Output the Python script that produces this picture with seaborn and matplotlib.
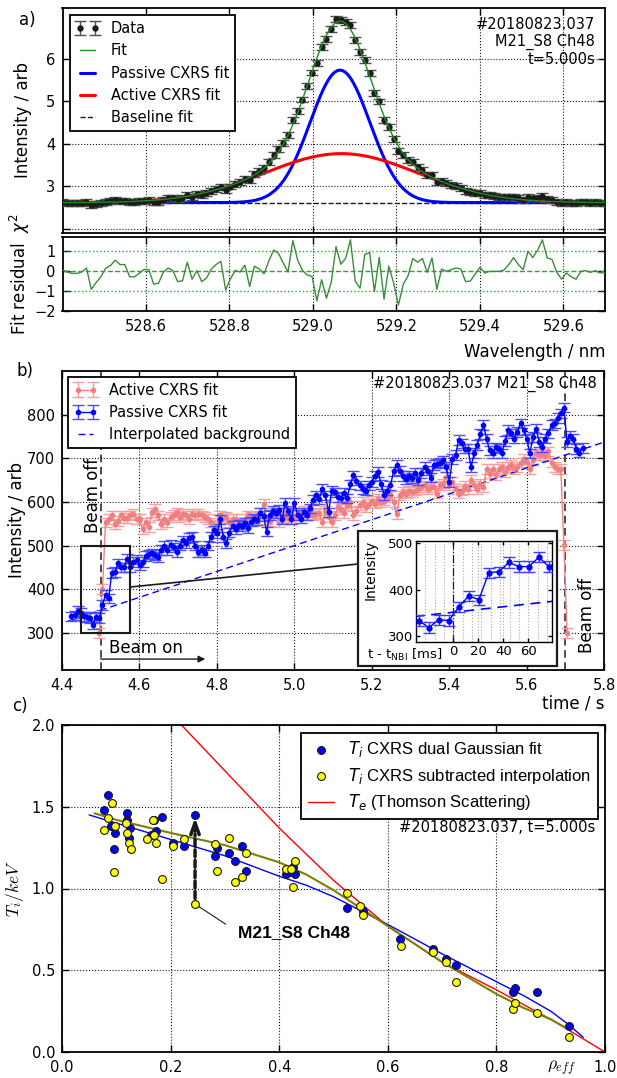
import numpy as np
import matplotlib
matplotlib.use("Agg")
import matplotlib.pyplot as plt
from matplotlib.patches import Rectangle, ConnectionPatch
from matplotlib.ticker import MultipleLocator, FormatStrFormatter
import seaborn as sns

# ---------------- a) CXRS spectrum, M21_S8 Ch48 at t = 5.000 s ----------------
wl_start = 528.40      # nm, first detector pixel
wl_step = 0.0115       # nm per pixel
fit_residual = [
    0.05, -0.05, -0.12, -0.12, -0.05, 0.15, -0.92, -0.58, -0.29, 0.14,
    0.27, 0.54, 0.32, 0.32, -0.29, -0.29, -0.12, 0.08, 0.07, -0.66,
    -0.61, -0.07, 0.15, 0.02, -0.53, -0.49, 0.44, -0.41, 0.02, -0.53,
    -0.36, 0.10, 0.32, 0.49, -0.95, -0.39, 0.03, -0.05, 0.29, -0.78,
    0.24, 0.10, -0.14, 0.50, 1.05, 0.88, 0.40, -0.05, 1.53, 0.54,
    0.03, -0.20, -0.27, -1.49, -0.44, -1.36, -0.56, 1.22, 0.34, 0.63,
    1.56, -0.51, -0.86, 0.83, 0.92, -1.03, 0.68, -1.41, 0.24, -0.60,
    -1.70, -0.67, -0.24, 0.62, 0.44, 0.62, -0.07, 0.65, -0.92, 0.10,
    -0.02, 0.07, 0.15, 0.10, -0.53, -0.50, -0.15, 0.19, -0.10, -0.02,
    -0.02, -0.02, 0.05, 0.32, 0.67, 0.32, 0.07, 0.99, 0.67, 1.04,
    1.56, 0.65, 0.58, -0.07, -0.41, -0.10, -0.29, -0.41, -0.02, 0.02,
    -0.07, 0.02, -0.10, -0.07,
]
data_err = 0.07
baseline = 2.62
passive_amp, passive_center, passive_sigma = 3.11, 529.065, 0.0715
active_amp, active_center, active_sigma = 1.15, 529.068, 0.183

# ---------------- b) line intensities versus time ----------------
t_nbi = 4.50
t_beam_off = 5.70
frame_start = 4.4245
frame_step = 0.008
passive_intensity = [
    338, 340, 350, 345, 338, 336, 334, 319, 336, 334,
    364, 387, 379, 437, 439, 459, 450, 450, 470, 450,
    462, 468, 455, 462, 476, 480, 482, 478, 474, 490,
    500, 490, 502, 496, 486, 500, 512, 505, 518, 520,
    500, 486, 490, 484, 500, 520, 535, 528, 560, 520,
    505, 530, 545, 538, 548, 545, 552, 540, 555, 562,
    558, 575, 568, 532, 570, 580, 575, 582, 560, 598,
    580, 560, 598, 570, 562, 576, 570, 585, 605, 615,
    607, 630, 615, 576, 626, 622, 612, 610, 620, 608,
    640, 661, 649, 638, 630, 626, 638, 646, 660, 669,
    640, 615, 626, 638, 670, 684, 672, 660, 653, 660,
    655, 666, 650, 666, 680, 672, 656, 684, 688, 690,
    695, 680, 646, 699, 707, 742, 734, 722, 722, 680,
    712, 730, 755, 776, 745, 718, 711, 725, 722, 711,
    740, 765, 757, 745, 760, 780, 765, 745, 711, 749,
    768, 738, 726, 745, 757, 776, 780, 792, 803, 816,
    738, 752, 745, 721, 713, 724,
]
passive_err = 11
active_offset = 9
active_intensity = [
    300, 400, 553, 561, 569, 550, 557, 569, 563, 563,
    569, 573, 561, 561, 538, 553, 542, 576, 584, 569,
    550, 561, 553, 565, 570, 576, 565, 573, 569, 561,
    573, 569, 573, 569, 565, 561, 553, 542, 546, 569,
    563, 565, 553, 561, 561, 550, 553, 561, 569, 565,
    557, 569, 575, 596, 560, 557, 569, 576, 553, 565,
    569, 563, 573, 563, 569, 576, 580, 573, 576, 569,
    573, 575, 553, 580, 565, 553, 569, 588, 584, 575,
    592, 600, 569, 580, 592, 600, 588, 596, 603, 596,
    607, 600, 603, 611, 615, 600, 573, 615, 623, 619,
    626, 623, 626, 630, 634, 638, 630, 634, 634, 619,
    638, 642, 657, 638, 646, 630, 619, 626, 636, 630,
    650, 638, 630, 642, 634, 676, 665, 676, 661, 676,
    680, 668, 680, 684, 676, 680, 690, 699, 692, 676,
    696, 711, 707, 711, 705, 716, 690, 680, 676, 676,
    502, 300,
]
active_err = 11
background_time = [4.416, 5.80]
background_level = [327, 737]

# ---------------- c) ion temperature profile ----------------
rho_dg = [0.084, 0.078, 0.090, 0.098, 0.095, 0.119, 0.120, 0.126, 0.123, 0.163,
          0.170, 0.173, 0.184, 0.205, 0.225, 0.245, 0.282, 0.286, 0.308, 0.318,
          0.331, 0.338, 0.412, 0.420, 0.426, 0.429, 0.524, 0.555, 0.622, 0.684,
          0.708, 0.725, 0.830, 0.835, 0.875, 0.934]
ti_dg = [1.57, 1.48, 1.38, 1.34, 1.24, 1.46, 1.42, 1.37, 1.31, 1.33,
         1.42, 1.35, 1.44, 1.28, 1.26, 1.45, 1.20, 1.25, 1.22, 1.17,
         1.26, 1.11, 1.09, 1.10, 1.13, 1.09, 0.88, 0.86, 0.69, 0.63,
         0.57, 0.53, 0.37, 0.39, 0.37, 0.16]
rho_si = [0.092, 0.084, 0.078, 0.098, 0.095, 0.118, 0.119, 0.124, 0.127, 0.157,
          0.168, 0.170, 0.173, 0.184, 0.205, 0.225, 0.245, 0.282, 0.286, 0.308,
          0.318, 0.331, 0.338, 0.413, 0.422, 0.429, 0.426, 0.524, 0.548, 0.555,
          0.624, 0.684, 0.708, 0.725, 0.830, 0.835, 0.875, 0.934]
ti_si = [1.52, 1.43, 1.36, 1.38, 1.10, 1.40, 1.34, 1.28, 1.24, 1.30,
         1.42, 1.33, 1.28, 1.06, 1.26, 1.30, 0.905, 1.27, 1.11, 1.31,
         1.04, 1.07, 1.22, 1.12, 1.12, 1.17, 1.01, 0.97, 0.895, 0.84,
         0.65, 0.61, 0.55, 0.43, 0.26, 0.30, 0.24, 0.09]
rho_fit_dg = [0.05, 0.10, 0.20, 0.30, 0.40, 0.45, 0.50, 0.60, 0.70, 0.80, 0.85, 0.90,
              0.93, 0.96]
ti_fit_dg = [1.45, 1.40, 1.30, 1.20, 1.075, 1.02, 0.95, 0.78, 0.60, 0.43, 0.345, 0.25,
             0.175, 0.09]
rho_fit_si = [0.06, 0.10, 0.20, 0.30, 0.40, 0.45, 0.50, 0.60, 0.70, 0.80, 0.85, 0.90,
              0.935]
ti_fit_si = [1.46, 1.42, 1.34, 1.265, 1.16, 1.085, 0.99, 0.77, 0.55, 0.355, 0.27, 0.20,
             0.135]
rho_te = [0.20, 0.30, 0.40, 0.50, 0.60, 0.70, 0.80, 0.90, 1.00]
te_ts = [2.07, 1.72, 1.37, 1.05, 0.77, 0.55, 0.38, 0.20, 0.00]
channel_dg, channel_si = 15, 16   # M21_S8 Ch48 in the two profiles

# ---------------- style ----------------
sns.set_theme(style="white")
plt.rcParams.update({
    "font.family": ["DejaVu Sans"],
    "axes.edgecolor": "black",
    "axes.linewidth": 1.3,
    "axes.labelcolor": "black",
    "axes.labelsize": 12,
    "text.color": "black",
    "xtick.color": "black",
    "ytick.color": "black",
    "xtick.direction": "in",
    "ytick.direction": "in",
    "xtick.bottom": True,
    "ytick.left": True,
    "xtick.top": True,
    "ytick.right": True,
    "xtick.major.size": 5,
    "ytick.major.size": 5,
    "xtick.major.width": 1,
    "ytick.major.width": 1,
    "xtick.major.pad": 6,
    "ytick.major.pad": 5,
    "xtick.labelsize": 10.5,
    "ytick.labelsize": 10.5,
    "legend.fontsize": 10.5,
    "legend.frameon": True,
    "legend.fancybox": False,
    "legend.edgecolor": "black",
    "legend.framealpha": 1,
    "patch.linewidth": 1.3,
})
GRID = dict(ls=":", color="k", lw=0.8)

fig = plt.figure(figsize=(6.17, 10.78), dpi=100)
W, H = 617.0, 1078.0


def box(left, top, right, bottom):
    return [left / W, 1 - bottom / H, (right - left) / W, (bottom - top) / H]


ax_a = fig.add_axes(box(62.5, 8, 605, 233))
ax_r = fig.add_axes(box(62.5, 237, 605, 311), sharex=ax_a)
ax_b = fig.add_axes(box(62, 371, 604, 670))
ax_c = fig.add_axes(box(62, 725, 605, 1052))
ax_in = fig.add_axes(box(416, 541, 552, 642))


def gaussian(x, amp, cen, sig):
    return amp * np.exp(-0.5 * ((x - cen) / sig) ** 2)


# ---------------- panel a ----------------
wavelength = wl_start + wl_step * np.arange(len(fit_residual))
model_at_pixels = (baseline + gaussian(wavelength, passive_amp, passive_center, passive_sigma)
                   + gaussian(wavelength, active_amp, active_center, active_sigma))
spectrum = model_at_pixels + np.asarray(fit_residual) * data_err

wl_fine = np.linspace(wavelength[0], wavelength[-1], 800)
passive_curve = baseline + gaussian(wl_fine, passive_amp, passive_center, passive_sigma)
active_curve = baseline + gaussian(wl_fine, active_amp, active_center, active_sigma)
fit_curve = passive_curve + active_curve - baseline

ax_a.errorbar(wavelength, spectrum, yerr=data_err, fmt="o", ms=3.6, color="k",
              ecolor="0.3", elinewidth=1, capsize=4, capthick=1, label="Data", zorder=3)
sns.lineplot(x=wl_fine, y=fit_curve, color="#1e8c1e", lw=1, label="Fit", ax=ax_a, zorder=4)
sns.lineplot(x=wl_fine, y=passive_curve, color="#0000ff", lw=2.2,
             label="Passive CXRS fit", ax=ax_a, zorder=2)
sns.lineplot(x=wl_fine, y=active_curve, color="#ff0000", lw=2.2,
             label="Active CXRS fit", ax=ax_a, zorder=2)
ax_a.axhline(baseline, color="k", ls="--", lw=1, label="Baseline fit", zorder=1)

h, l = ax_a.get_legend_handles_labels()
lookup = dict(zip(l, h))
order_a = ["Data", "Fit", "Passive CXRS fit", "Active CXRS fit", "Baseline fit"]
ax_a.legend([lookup[k] for k in order_a], order_a, loc="upper left", numpoints=2,
            handlelength=1.6, borderaxespad=0.5)
ax_a.text(0.982, 0.958, "#20180823.037\nM21_S8 Ch48\nt=5.000s", transform=ax_a.transAxes,
          ha="right", va="top", fontsize=10.5, linespacing=1.15)

ax_a.set_xlim(528.4, 529.7)
ax_a.set_ylim(1.906, 7.19)
ax_a.set_yticks([2, 3, 4, 5, 6])
ax_a.set_yticklabels(["", "3", "4", "5", "6"])
ax_a.tick_params(labelbottom=False)
ax_a.grid(True, **GRID)
ax_a.set_ylabel("Intensity / arb")
ax_a.yaxis.set_label_coords(-0.056, 0.5)

# residual
sns.lineplot(x=wavelength, y=fit_residual, color="#3c8c3c", lw=1, ax=ax_r, zorder=3)
for level, style in ((1, ":"), (0, "--"), (-1, ":")):
    ax_r.axhline(level, color="#3c9c3c", ls=style, lw=1, zorder=1)
ax_r.set_ylim(-2, 1.7)
ax_r.set_yticks([-2, -1, 0, 1])
ax_r.set_xticks([528.6, 528.8, 529.0, 529.2, 529.4, 529.6])
ax_r.xaxis.set_major_formatter(FormatStrFormatter("%.1f"))
ax_r.grid(True, axis="x", **GRID)
ax_r.set_xlabel("Wavelength / nm", loc="right", labelpad=6)
ax_r.set_ylabel(r"Fit residual  $\chi^2$")
ax_r.yaxis.set_label_coords(-0.056, 0.5)

# ---------------- panel b ----------------
time = frame_start + frame_step * np.arange(len(passive_intensity))
t_active = time[active_offset:active_offset + len(active_intensity)]

h_act = ax_b.errorbar(t_active, active_intensity, yerr=active_err, fmt="-o", color="#f08080",
                      ms=3, lw=1, ecolor="#f4a0a0", elinewidth=1, capsize=4,
                      label="Active CXRS fit", zorder=2)
h_pas = ax_b.errorbar(time, passive_intensity, yerr=passive_err, fmt="-o", color="#0000ff",
                      ms=3, lw=1, ecolor="#4d4dff", elinewidth=1, capsize=4,
                      label="Passive CXRS fit", zorder=3)
sns.lineplot(x=background_time, y=background_level, color="#0000ff", lw=1,
             linestyle=(0, (5, 3)), label="Interpolated background", ax=ax_b, zorder=2)
h, l = ax_b.get_legend_handles_labels()
lookup = dict(zip(l, h))
order_b = ["Active CXRS fit", "Passive CXRS fit", "Interpolated background"]
ax_b.legend([lookup[k] for k in order_b], order_b, loc="upper left", numpoints=2,
            handlelength=1.6, borderaxespad=0.4)

for t_mark in (t_nbi, t_beam_off):
    ax_b.axvline(t_mark, color="k", ls=(0, (5, 3)), lw=1.1, zorder=1)
ax_b.text(4.479, 616, "Beam off", rotation=90, ha="center", va="center", fontsize=12)
ax_b.text(5.755, 339, "Beam off", rotation=90, ha="center", va="center", fontsize=12)
ax_b.annotate("", xy=(4.77, 240), xytext=(t_nbi, 240),
              arrowprops=dict(arrowstyle="-|>", color="k", lw=1, mutation_scale=10,
                              shrinkA=0, shrinkB=0))
ax_b.text(4.522, 254, "Beam on", ha="left", va="baseline", fontsize=12)
ax_b.text(0.987, 0.985, "#20180823.037 M21_S8 Ch48", transform=ax_b.transAxes,
          ha="right", va="top", fontsize=10.5)

# zoom region and the frame holding the inset
ax_b.add_patch(Rectangle((4.45, 300), 0.125, 200, fill=False, ec="k", lw=1.5, zorder=4))
ax_b.add_patch(Rectangle((0.546, 0.013), 0.367, 0.452, transform=ax_b.transAxes,
                         fc="white", ec="k", lw=1.6, zorder=6))
ax_b.add_artist(ConnectionPatch(xyA=(4.575, 405), coordsA=ax_b.transData,
                                xyB=(0.546, 0.3545), coordsB=ax_b.transAxes,
                                color="k", lw=1.2, zorder=5))

ax_b.set_xlim(4.4, 5.8)
ax_b.set_ylim(215, 900)
ax_b.set_xticks(np.arange(4.4, 5.81, 0.2))
ax_b.xaxis.set_major_formatter(FormatStrFormatter("%.1f"))
ax_b.set_yticks([300, 400, 500, 600, 700, 800])
ax_b.grid(True, **GRID)
ax_b.set_xlabel("time / s", loc="right", labelpad=1)
ax_b.set_ylabel("Intensity / arb")
ax_b.yaxis.set_label_coords(-0.066, 0.5)

# inset: beam switch-on
t_rel = (time - t_nbi) * 1000
ax_in.errorbar(t_rel, passive_intensity, yerr=passive_err, fmt="-o", color="#0000ff", ms=3.5,
               lw=1, ecolor="#3d3dff", elinewidth=1, capsize=4, zorder=3)
sns.lineplot(x=(np.asarray(background_time) - t_nbi) * 1000, y=background_level,
             color="#0000ff", lw=1.2, linestyle=(0, (6, 4)), ax=ax_in, zorder=2)
ax_in.axvline(0, color="k", ls="-.", lw=0.9, zorder=2)
ax_in.set_xlim(-29.8, 79)
ax_in.set_ylim(288, 505)
ax_in.set_xticks([0, 20, 40, 60])
ax_in.set_yticks([300, 400, 500])
ax_in.xaxis.set_minor_locator(MultipleLocator(7.5))
ax_in.tick_params(which="major", labelsize=9.5, pad=2, length=3)
ax_in.tick_params(which="minor", length=0)
ax_in.grid(True, which="both", axis="x", ls=":", color="0.65", lw=0.8)
for sp in ax_in.spines.values():
    sp.set_linewidth(1.0)
ax_in.text(-0.335, 0.71, "Intensity", transform=ax_in.transAxes, rotation=90,
           ha="center", va="center", fontsize=10)
ax_in.text(-0.36, -0.13, r"t - t$_{\mathrm{NBI}}$ [ms]", transform=ax_in.transAxes,
           ha="left", va="center", fontsize=9.5)

# ---------------- panel c ----------------
sns.lineplot(x=rho_te, y=te_ts, color="#ff0000", lw=1, label=r"$T_e$ (Thomson Scattering)",
             ax=ax_c, zorder=2)
sns.lineplot(x=rho_fit_dg, y=ti_fit_dg, color="#0000ff", lw=1, ax=ax_c, zorder=2)
sns.lineplot(x=rho_fit_si, y=ti_fit_si, color="#808000", lw=1.5, ax=ax_c, zorder=2)
sns.scatterplot(x=rho_dg, y=ti_dg, color="#0000ff", edgecolor="k", linewidth=0.8, s=32,
                label=r"$T_i$ CXRS dual Gaussian fit", ax=ax_c, zorder=4)
sns.scatterplot(x=rho_si, y=ti_si, color="#ffff00", edgecolor="k", linewidth=0.8, s=32,
                label=r"$T_i$ CXRS subtracted interpolation", ax=ax_c, zorder=5)

x_ch = rho_dg[channel_dg]
ax_c.annotate("", xy=(x_ch, ti_dg[channel_dg]), xytext=(rho_si[channel_si], ti_si[channel_si]),
              arrowprops=dict(arrowstyle="-", ls=(0, (2, 1)), lw=2.5, color="k",
                              shrinkA=4, shrinkB=14), zorder=3)
ax_c.annotate("", xy=(x_ch, ti_dg[channel_dg]), xytext=(x_ch, ti_dg[channel_dg] - 0.1),
              arrowprops=dict(arrowstyle="->,head_length=0.7,head_width=0.25", lw=2.5,
                              color="k", shrinkA=0, shrinkB=2), zorder=3)
ax_c.annotate("M21_S8 Ch48", xy=(rho_si[channel_si], ti_si[channel_si]), xytext=(0.325, 0.73),
              fontsize=12.5, fontweight="bold", family=["Liberation Sans"],
              ha="left", va="center",
              arrowprops=dict(arrowstyle="-", color="k", lw=0.8, shrinkA=8, shrinkB=3,
                              relpos=(0, 0.5)))

h, l = ax_c.get_legend_handles_labels()
lookup = dict(zip(l, h))
order_c = [r"$T_i$ CXRS dual Gaussian fit", r"$T_i$ CXRS subtracted interpolation",
           r"$T_e$ (Thomson Scattering)"]
ax_c.legend([lookup[k] for k in order_c], order_c, loc="upper right", scatterpoints=1,
            handlelength=1.6, borderaxespad=0.45, labelspacing=0.4,
            prop={"family": ["Liberation Sans"], "size": 12})
ax_c.text(0.9816, 0.688, "#20180823.037, t=5.000s", transform=ax_c.transAxes,
          ha="right", va="center", fontsize=10.5)

ax_c.set_xlim(0, 1)
ax_c.set_ylim(0, 2)
ax_c.set_xticks(np.arange(0, 1.01, 0.2))
ax_c.set_yticks([0, 0.5, 1.0, 1.5, 2.0])
ax_c.xaxis.set_major_formatter(FormatStrFormatter("%.1f"))
ax_c.yaxis.set_major_formatter(FormatStrFormatter("%.1f"))
ax_c.grid(True, **GRID)
ax_c.set_xlabel(r"$\rho_{eff}$", math_fontfamily="cm", fontsize=12.5)
ax_c.xaxis.set_label_coords(0.92, -0.022)
ax_c.set_ylabel(r"$T_i/keV$", math_fontfamily="cm", fontsize=12.5)
ax_c.yaxis.set_label_coords(-0.066, 0.5)

# panel letters
fig.text(27.5 / W, 1 - 20 / H, "a)", ha="center", va="center", fontsize=12)
fig.text(25 / W, 1 - 371 / H, "b)", ha="center", va="center", fontsize=12)
fig.text(20 / W, 1 - 706 / H, "c)", ha="center", va="center", fontsize=12)

fig.savefig("out.png", dpi=100)
